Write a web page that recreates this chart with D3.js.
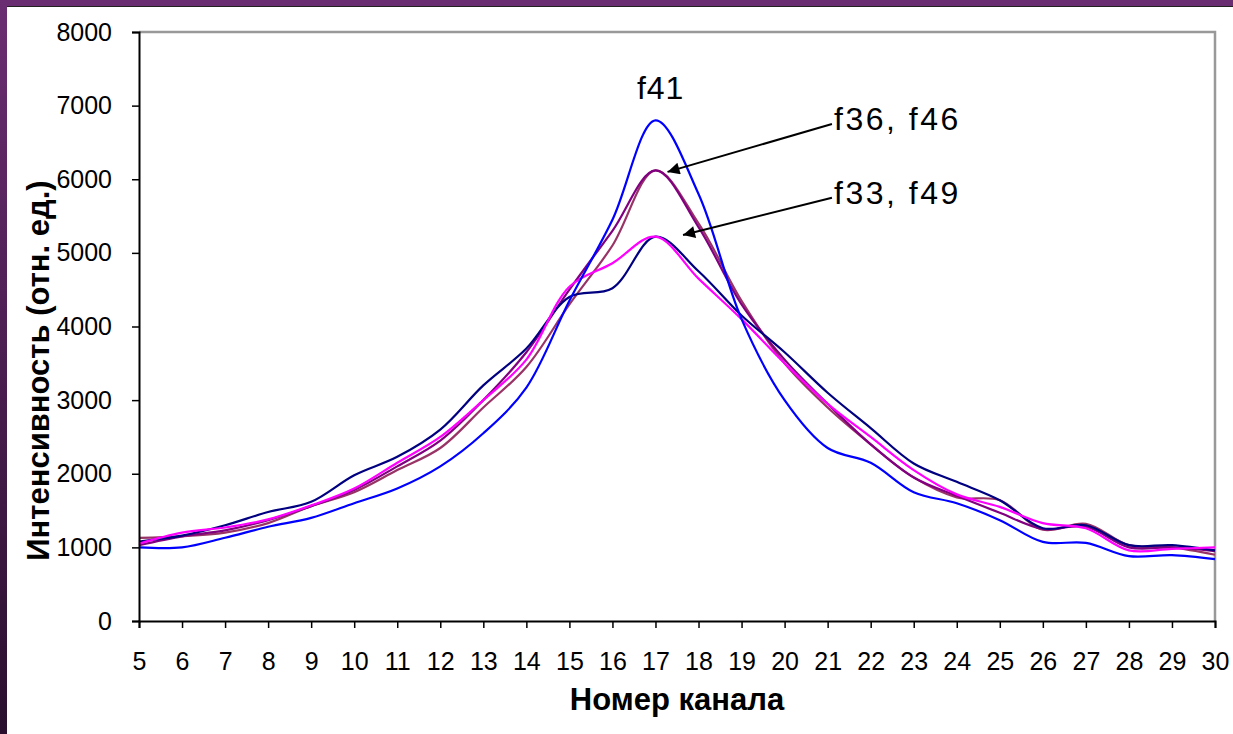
<!DOCTYPE html>
<html>
<head>
<meta charset="utf-8">
<script src="https://cdn.jsdelivr.net/npm/d3@7"></script>
<style>
  html, body { margin: 0; padding: 0; background: #fff; }
  svg { display: block; font-family: "Liberation Sans", Arial, sans-serif; }
</style>
</head>
<body>
<script>
// Размеры
const width = 1233;
const height = 734;
const margin = { top: 32, right: 18, bottom: 113, left: 139 };

// Данные
const channels = d3.range(5, 31);
const yTicks = [0, 1000, 2000, 3000, 4000, 5000, 6000, 7000, 8000];

const f41 = [1000, 1000, 1130, 1280, 1400, 1600, 1800, 2100, 2550, 3170, 4350, 5450, 6800, 5800, 4100, 3000, 2350, 2150, 1750, 1600, 1370, 1075, 1060, 880, 895, 840];
const f33 = [1080, 1160, 1300, 1480, 1620, 1980, 2230, 2600, 3200, 3700, 4400, 4520, 5220, 4750, 4150, 3650, 3100, 2620, 2140, 1890, 1640, 1260, 1300, 1030, 1030, 960];
const f49 = [1050, 1200, 1270, 1380, 1570, 1800, 2150, 2500, 3000, 3550, 4540, 4860, 5220, 4650, 4100, 3500, 2950, 2500, 2050, 1720, 1550, 1330, 1260, 960, 980, 1000];
const f36 = [1030, 1150, 1230, 1370, 1560, 1780, 2100, 2450, 3000, 3650, 4500, 5300, 6120, 5350, 4300, 3550, 2950, 2400, 1950, 1700, 1470, 1250, 1280, 1000, 1000, 950];
const f46 = [1130, 1150, 1200, 1330, 1560, 1750, 2050, 2350, 2900, 3450, 4300, 5100, 6120, 5400, 4350, 3500, 2900, 2400, 1950, 1680, 1640, 1240, 1320, 1030, 1000, 900];

const series = [
  { name: "f46", values: f46, color: "#993366" },
  { name: "f36", values: f36, color: "#800080" },
  { name: "f33", values: f33, color: "#000080" },
  { name: "f49", values: f49, color: "#ff00ff" },
  { name: "f41", values: f41, color: "#0000ff" }
];

const svg = d3.select("body").append("svg")
  .attr("width", width)
  .attr("height", height);

// Рамка слайда
const grad = svg.append("defs").append("linearGradient")
  .attr("id", "frame").attr("x1", 0).attr("y1", 0).attr("x2", 0).attr("y2", 1);
grad.append("stop").attr("offset", 0).attr("stop-color", "#6b2d72");
grad.append("stop").attr("offset", 1).attr("stop-color", "#2a0f2e");
svg.append("rect").attr("width", width).attr("height", height).attr("fill", "url(#frame)");
svg.append("rect").attr("x", 7).attr("y", 6).attr("width", width - 7).attr("height", height - 6).attr("fill", "#fff");
svg.append("line").attr("x1", 7).attr("x2", width).attr("y1", 6.5).attr("y2", 6.5).attr("stroke", "#222").attr("stroke-width", 1);

// Шкалы
const x = d3.scaleLinear()
  .domain([5, 30])
  .range([margin.left, width - margin.right]);

const y = d3.scaleLinear()
  .domain([0, 8000])
  .range([height - margin.bottom, margin.top]);

// Рамка области построения
svg.append("path")
  .attr("d", `M${x(5)},${y(8000)}H${x(30)}V${y(0)}`)
  .attr("fill", "none")
  .attr("stroke", "#999")
  .attr("stroke-width", 2.5);

// Линии
const line = d3.line()
  .x((d, i) => x(channels[i]))
  .y(d => y(d))
  .curve(d3.curveCatmullRom.alpha(0.5));

svg.append("g")
  .selectAll("path")
  .data(series)
  .join("path")
  .attr("d", d => line(d.values))
  .attr("fill", "none")
  .attr("stroke", d => d.color)
  .attr("stroke-width", 2.2);

// Оси
svg.append("g")
  .attr("transform", `translate(0,${y(0)})`)
  .call(d3.axisBottom(x).tickValues(channels).tickFormat(d3.format("d")).tickSize(7).tickPadding(24))
  .call(g => g.select(".domain").attr("stroke-width", 2))
  .call(g => g.selectAll(".tick line").attr("stroke-width", 1.5))
  .call(g => g.selectAll("text").attr("font-size", 25).attr("fill", "#000").attr("font-family", "Liberation Sans, Arial, sans-serif"));

svg.append("g")
  .attr("transform", `translate(${x(5)},0)`)
  .call(d3.axisLeft(y).tickValues(yTicks).tickFormat(d3.format("d")).tickSize(7).tickPadding(20))
  .call(g => g.select(".domain").attr("stroke-width", 2))
  .call(g => g.selectAll(".tick line").attr("stroke-width", 1.5))
  .call(g => g.selectAll("text").attr("font-size", 25).attr("fill", "#000").attr("font-family", "Liberation Sans, Arial, sans-serif"));

// Подписи осей
svg.append("text")
  .attr("x", (x(5) + x(30)) / 2)
  .attr("y", 710)
  .attr("text-anchor", "middle")
  .attr("font-size", 31)
  .attr("font-weight", "bold")
  .text("Номер канала");

svg.append("text")
  .attr("transform", `translate(49,${(y(0) + y(8000)) / 2 + 44}) rotate(-90)`)
  .attr("text-anchor", "middle")
  .attr("font-size", 31)
  .attr("font-weight", "bold")
  .text("Интенсивность (отн. ед.)");

// Аннотации
svg.append("defs").append("marker")
  .attr("id", "arrow")
  .attr("viewBox", "0 0 10 10")
  .attr("refX", 10).attr("refY", 5)
  .attr("markerWidth", 9).attr("markerHeight", 6)
  .attr("markerUnits", "strokeWidth")
  .attr("orient", "auto")
  .append("path").attr("d", "M0,0L10,5L0,10Z").attr("fill", "#000");

const notes = [
  { text: "f41", tx: 17.12, ty: 7090, anchor: "middle", spacing: 1 },
  { text: "f36, f46", tx: 21.15, ty: 6670, anchor: "start", spacing: 2.5, from: [21.1, 6750], to: [17.28, 6100] },
  { text: "f33, f49", tx: 21.15, ty: 5665, anchor: "start", spacing: 2.5, from: [21.1, 5750], to: [17.64, 5243] }
];

svg.append("g")
  .selectAll("text")
  .data(notes)
  .join("text")
  .attr("x", d => x(d.tx))
  .attr("y", d => y(d.ty))
  .attr("text-anchor", d => d.anchor)
  .attr("font-size", 32)
  .attr("letter-spacing", d => d.spacing)
  .text(d => d.text);

svg.append("g")
  .selectAll("line")
  .data(notes.filter(d => d.from))
  .join("line")
  .attr("x1", d => x(d.from[0]))
  .attr("y1", d => y(d.from[1]))
  .attr("x2", d => x(d.to[0]))
  .attr("y2", d => y(d.to[1]))
  .attr("stroke", "#000")
  .attr("stroke-width", 2)
  .attr("marker-end", "url(#arrow)");
</script>
</body>
</html>
